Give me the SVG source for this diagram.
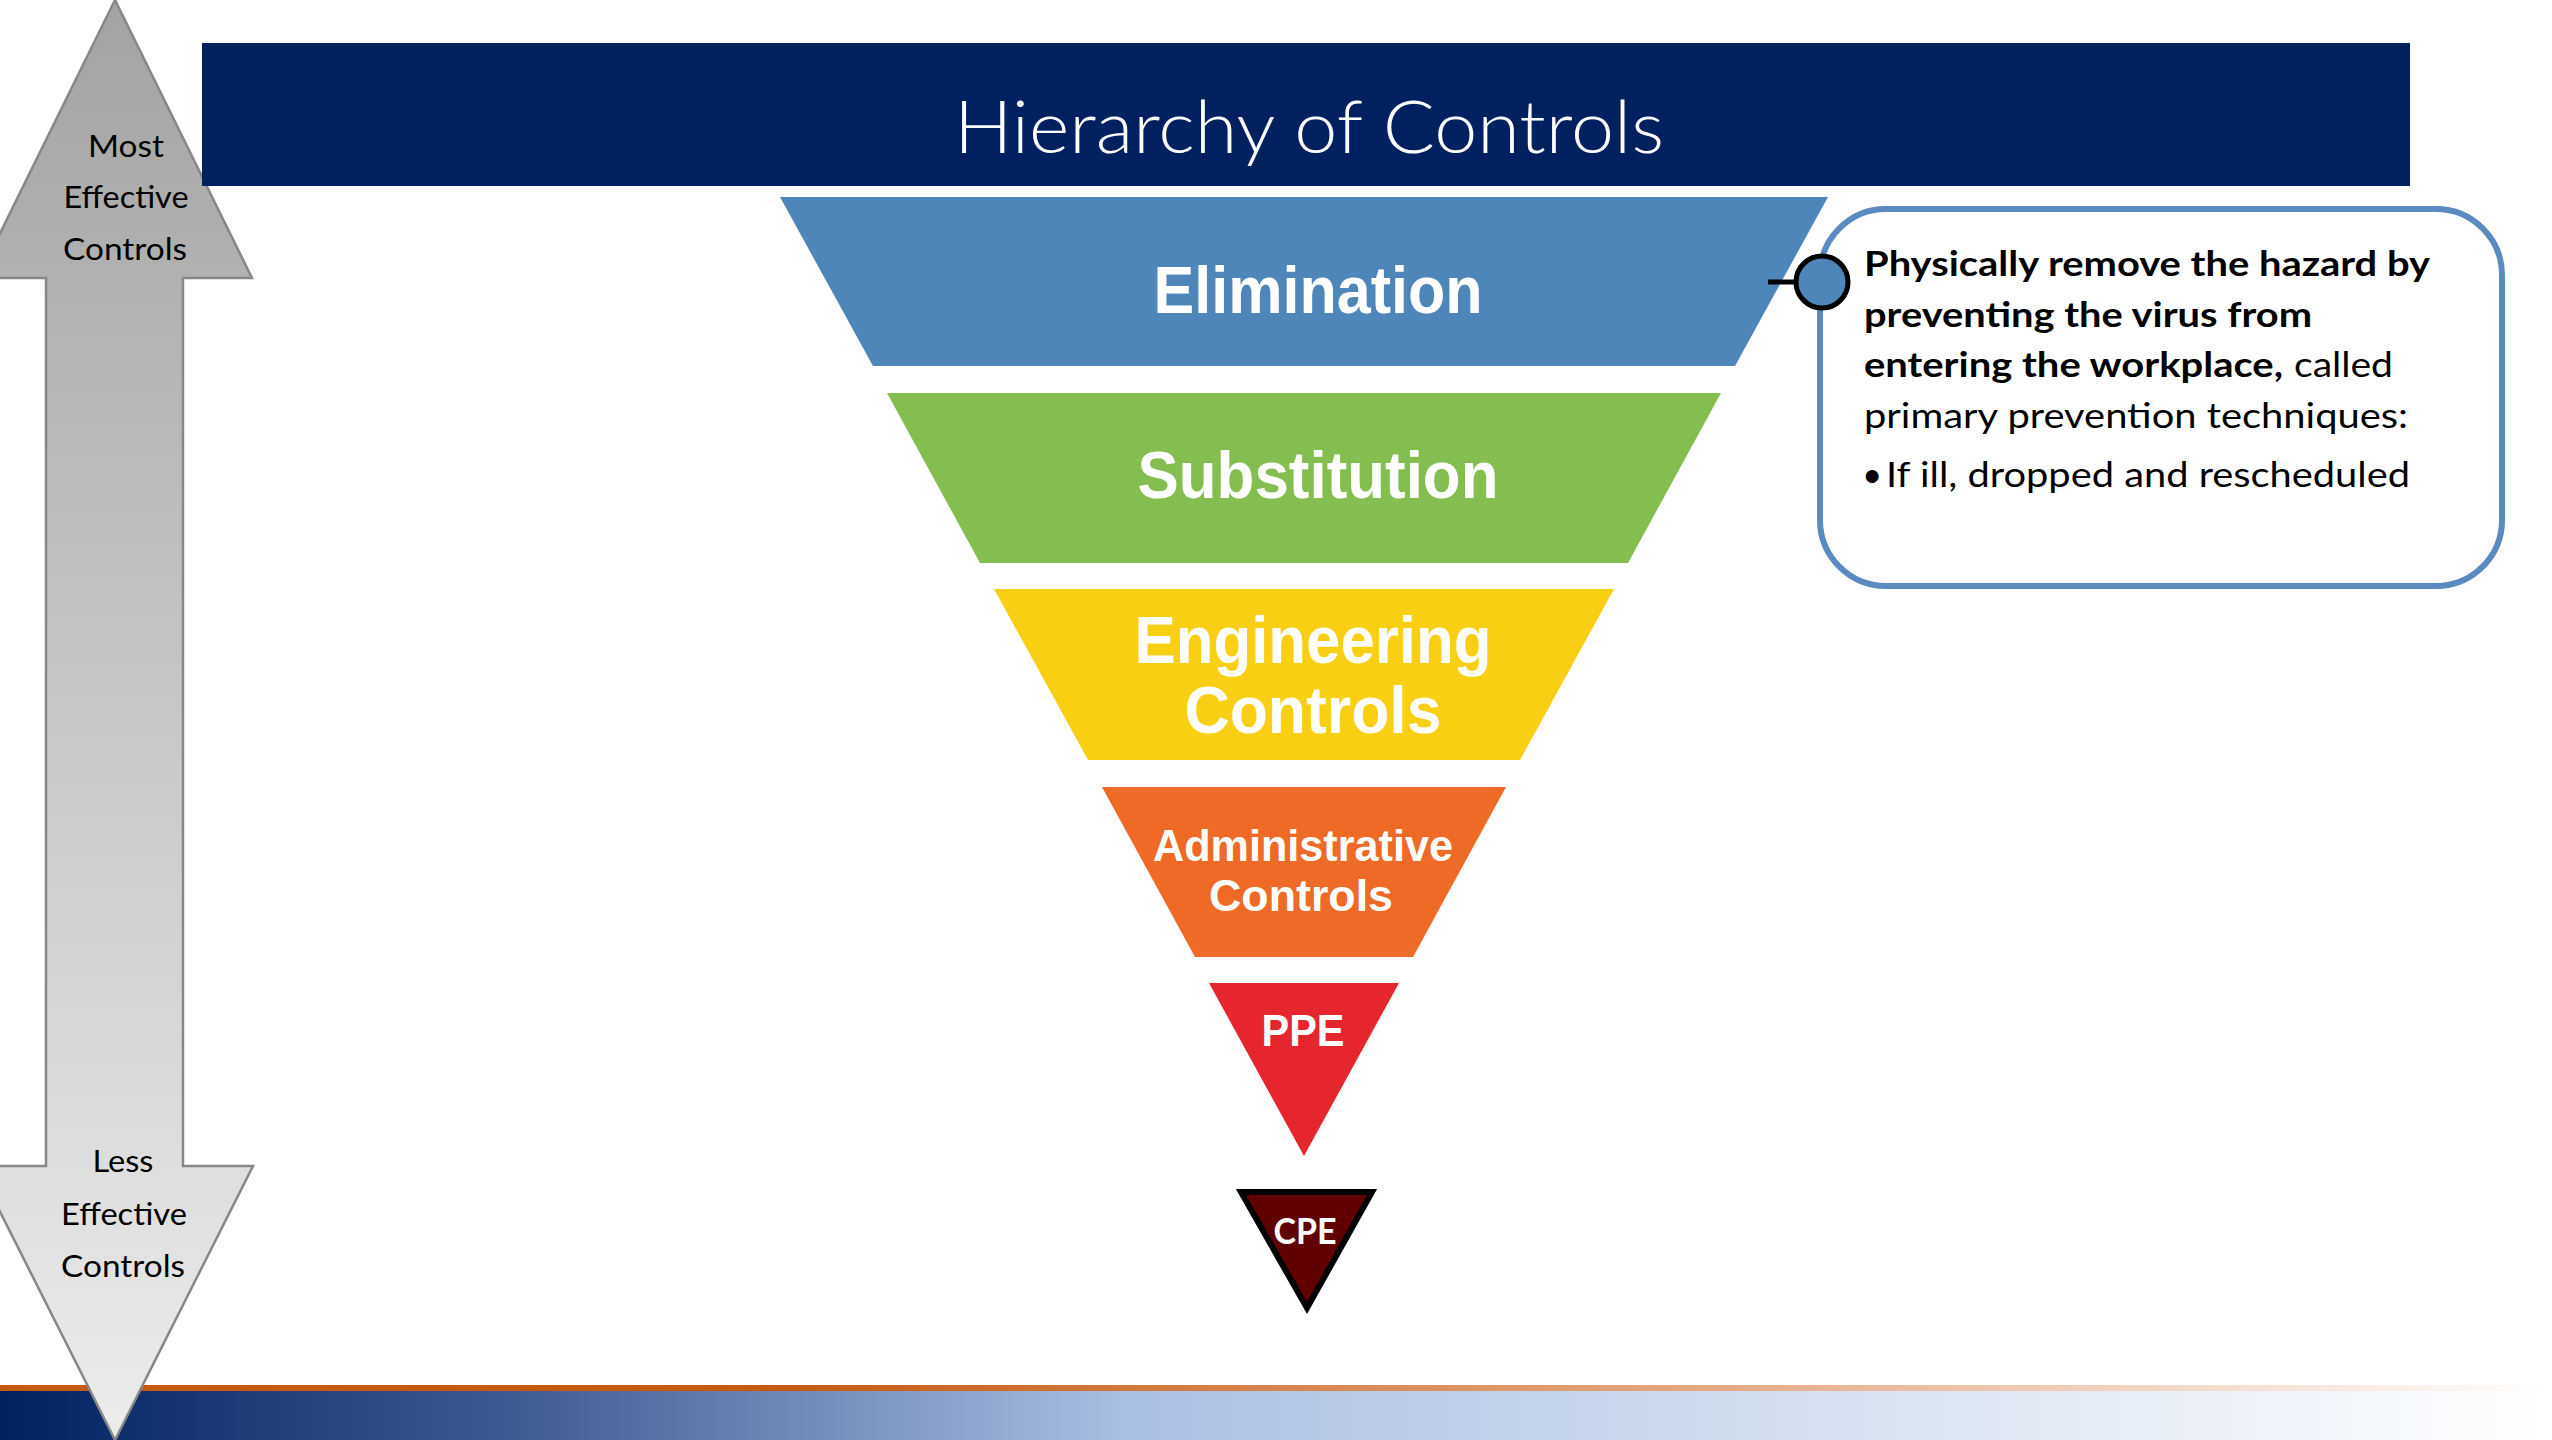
<svg xmlns="http://www.w3.org/2000/svg" width="2552" height="1440" viewBox="0 0 2552 1440">
<defs>
<linearGradient id="arrowGrad" x1="0" y1="0" x2="0" y2="1">
<stop offset="0" stop-color="#a3a3a3"/>
<stop offset="1" stop-color="#ececec"/>
</linearGradient>
<linearGradient id="blueBand" x1="0" y1="0" x2="1" y2="0">
<stop offset="0" stop-color="#002060"/>
<stop offset="0.2" stop-color="#3d5a92"/>
<stop offset="0.44" stop-color="#a9bfe3"/>
<stop offset="0.7" stop-color="#d3dff0"/>
<stop offset="1" stop-color="#ffffff"/>
</linearGradient>
<linearGradient id="orangeBand" x1="0" y1="0" x2="1" y2="0">
<stop offset="0" stop-color="#c55a11"/>
<stop offset="0.3" stop-color="#c55a11"/>
<stop offset="0.65" stop-color="#e2a47c"/>
<stop offset="1" stop-color="#ffffff"/>
</linearGradient>
</defs>
<style>
.band{stroke:none}
.lbl{font-family:"Liberation Sans",Arial,sans-serif;font-weight:bold;fill:#ffffff;text-anchor:middle}
.arr{font-family:Lato,"Liberation Sans",sans-serif;font-size:31px;fill:#000000;text-anchor:middle}
.box{font-family:Lato,"Liberation Sans",sans-serif;font-size:35px;fill:#000000}
.b{font-weight:bold}
</style>
<rect width="2552" height="1440" fill="#ffffff"/>

<g id="footer">
<rect x="0" y="1385" width="2552" height="7" fill="url(#orangeBand)"/>
<rect x="0" y="1391" width="2552" height="49" fill="url(#blueBand)"/>
</g>

<g id="effectiveness-arrow">
<polygon points="115,0 252,278 183,278 183,1166 253,1166 115,1440 -23,1166 46,1166 46,278 -22,278" fill="url(#arrowGrad)" stroke="#878787" stroke-width="2.5" stroke-linejoin="miter"/>
<text class="arr" x="126" y="157" textLength="76" lengthAdjust="spacingAndGlyphs">Most</text>
<text class="arr" x="126" y="208" textLength="125" lengthAdjust="spacingAndGlyphs">Effective</text>
<text class="arr" x="125" y="260" textLength="124" lengthAdjust="spacingAndGlyphs">Controls</text>
<text class="arr" x="123" y="1172" textLength="61" lengthAdjust="spacingAndGlyphs">Less</text>
<text class="arr" x="124" y="1225" textLength="126" lengthAdjust="spacingAndGlyphs">Effective</text>
<text class="arr" x="123" y="1277" textLength="124" lengthAdjust="spacingAndGlyphs">Controls</text>
</g>

<g id="title">
<rect x="202" y="43" width="2208" height="143" fill="#002060"/>
<text x="1309" y="153" font-family="Lato,'Liberation Sans',sans-serif" font-weight="300" font-size="72" fill="#ffffff" text-anchor="middle" textLength="710" lengthAdjust="spacingAndGlyphs">Hierarchy of Controls</text>
</g>

<g id="elimination">
<polygon class="band" points="780,197 1828,197 1735,366 873,366" fill="#4f86b9"/>
<text class="lbl" x="1318" y="313" font-size="66" textLength="329" lengthAdjust="spacingAndGlyphs">Elimination</text>
</g>
<g id="substitution">
<polygon class="band" points="887,393 1721,393 1628,563 980,563" fill="#84bd50"/>
<text class="lbl" x="1318" y="498" font-size="66" textLength="361" lengthAdjust="spacingAndGlyphs">Substitution</text>
</g>
<g id="engineering">
<polygon class="band" points="994,589 1614,589 1520,760 1088,760" fill="#f9cf14"/>
<text class="lbl" x="1313" y="663" font-size="66" textLength="357" lengthAdjust="spacingAndGlyphs">Engineering</text>
<text class="lbl" x="1313" y="733" font-size="66" textLength="257" lengthAdjust="spacingAndGlyphs">Controls</text>
</g>
<g id="administrative">
<polygon class="band" points="1102,787 1506,787 1413,957 1195,957" fill="#ee6a26"/>
<text class="lbl" x="1303" y="861" font-size="44" textLength="300" lengthAdjust="spacingAndGlyphs">Administrative</text>
<text class="lbl" x="1301" y="911" font-size="44" textLength="184" lengthAdjust="spacingAndGlyphs">Controls</text>
</g>
<g id="ppe">
<polygon class="band" points="1209,983 1399,983 1304,1156" fill="#e5262e"/>
<text class="lbl" x="1303" y="1046" font-size="44" textLength="83" lengthAdjust="spacingAndGlyphs">PPE</text>
</g>
<g id="cpe">
<polygon points="1241,1192 1372,1192 1307,1308" fill="#600000" stroke="#000000" stroke-width="6" stroke-linejoin="miter"/>
<text x="1305" y="1244" font-family="Lato,'Liberation Sans',sans-serif" font-weight="bold" font-size="36" fill="#ffffff" text-anchor="middle" textLength="63" lengthAdjust="spacingAndGlyphs">CPE</text>
</g>

<g id="callout">
<rect x="1820" y="209" width="682" height="377" rx="66" ry="66" fill="#ffffff" stroke="#5a8abf" stroke-width="6"/>
<text class="box b" x="1864" y="276" textLength="566" lengthAdjust="spacingAndGlyphs">Physically remove the hazard by</text>
<text class="box b" x="1864" y="327" textLength="448" lengthAdjust="spacingAndGlyphs">preventing the virus from</text>
<text class="box b" x="1864" y="377" textLength="419" lengthAdjust="spacingAndGlyphs">entering the workplace,</text>
<text class="box" x="2294" y="377" textLength="99" lengthAdjust="spacingAndGlyphs">called</text>
<text class="box" x="1864" y="428" textLength="544" lengthAdjust="spacingAndGlyphs">primary prevention techniques:</text>
<text class="box" x="1862" y="487">•</text>
<text class="box" x="1886" y="487" textLength="524" lengthAdjust="spacingAndGlyphs">If ill, dropped and rescheduled</text>
</g>

<g id="connectors">
<line x1="1768" y1="282" x2="1797" y2="282" stroke="#000000" stroke-width="5"/>
<circle cx="1822" cy="282" r="26" fill="#4f86b9" stroke="#000000" stroke-width="5"/>
</g>
</svg>
